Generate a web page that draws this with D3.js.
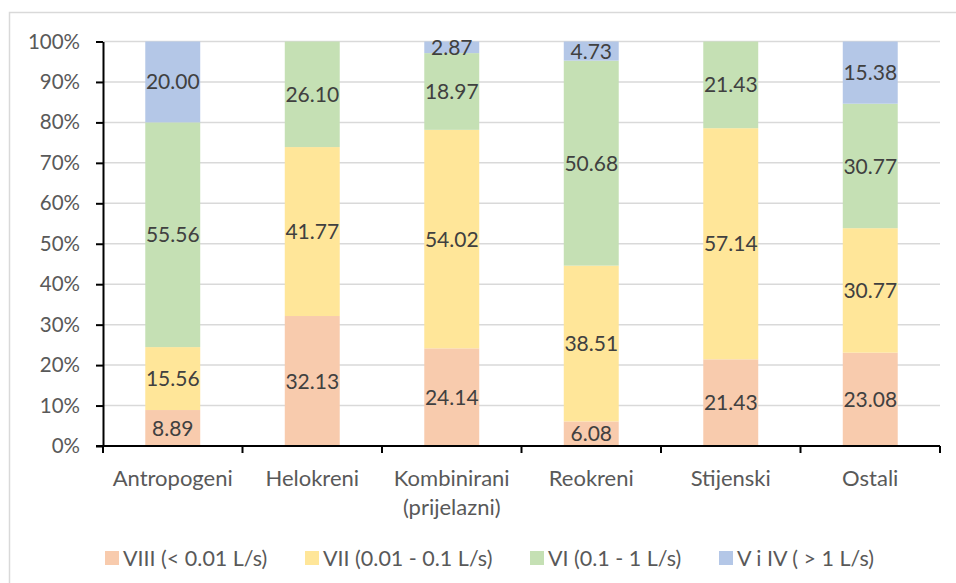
<!DOCTYPE html>
<html>
<head>
<meta charset="utf-8">
<script src="https://cdn.jsdelivr.net/npm/d3@7"></script>
<style>
  html, body { margin: 0; padding: 0; background: #fff; }
  svg { display: block; font-family: Lato, "Open Sans", sans-serif; }
</style>
</head>
<body>
<svg id="chart" width="956" height="583"></svg>
<script>
// Spring types and their discharge-class shares (%)
const categories = ["Antropogeni", "Helokreni", "Kombinirani\n(prijelazni)", "Reokreni", "Stijenski", "Ostali"];
const seriesNames = ["VIII (< 0.01 L/s)", "VII (0.01 - 0.1 L/s)", "VI (0.1 - 1 L/s)", "V i IV ( > 1 L/s)"];
const classVIII = [8.89, 32.13, 24.14, 6.08, 21.43, 23.08];
const classVII  = [15.56, 41.77, 54.02, 38.51, 57.14, 30.77];
const classVI   = [55.56, 26.10, 18.97, 50.68, 21.43, 30.77];
const classVIV  = [20.00, 0, 2.87, 4.73, 0, 15.38];
const yTicks = [0, 10, 20, 30, 40, 50, 60, 70, 80, 90, 100];
const colors = ["#F8CBAD", "#FFE699", "#C5E0B4", "#B4C7E7"];

const seriesValues = [classVIII, classVII, classVI, classVIV];
const rows = categories.map((c, i) => {
  const r = { cat: c };
  seriesNames.forEach((s, j) => { r[s] = seriesValues[j][i]; });
  return r;
});

const svg = d3.select("#chart");
const m = { left: 103, right: 940, top: 41.5, bottom: 446 };

// outer chart frame
svg.append("rect")
  .attr("x", 9.5).attr("y", 12.5)
  .attr("width", 1000).attr("height", 1000)
  .attr("fill", "none").attr("stroke", "#D9D9D9").attr("stroke-width", 1.5);

const x = d3.scaleBand().domain(categories).range([m.left, m.right]).paddingInner(0.606).paddingOuter(0.303);
const xEdges = d3.scaleLinear().domain([0, categories.length]).range([m.left, m.right]);
const y = d3.scaleLinear().domain([0, 100]).range([m.bottom, m.top]);

// horizontal gridlines
svg.append("g").selectAll("line").data(yTicks.filter(t => t > 0)).join("line")
  .attr("x1", m.left).attr("x2", m.right)
  .attr("y1", d => y(d)).attr("y2", d => y(d))
  .attr("stroke", "#D9D9D9").attr("stroke-width", 1.5);

// stacked bars
const stack = d3.stack().keys(seriesNames);
const layers = stack(rows);

const g = svg.append("g");
layers.forEach((layer, j) => {
  g.append("g").attr("fill", colors[j]).selectAll("rect")
    .data(layer.filter(d => d[1] - d[0] > 0)).join("rect")
    .attr("x", d => x(d.data.cat))
    .attr("width", x.bandwidth())
    .attr("y", d => y(d[1]))
    .attr("height", d => y(d[0]) - y(d[1]));
});

// value labels centred in each segment
layers.forEach((layer, j) => {
  g.append("g").selectAll("text")
    .data(layer.filter(d => d[1] - d[0] > 0)).join("text")
    .attr("x", d => x(d.data.cat) + x.bandwidth() / 2)
    .attr("y", d => y((d[0] + d[1]) / 2))
    .attr("dy", "0.36em")
    .attr("text-anchor", "middle")
    .attr("fill", "#404040")
    .attr("font-size", 21)
    .text(d => (d[1] - d[0]).toFixed(2));
});

// y axis
const yAxis = d3.axisLeft(y).tickValues(yTicks).tickFormat(d => d + "%").tickSize(7).tickSizeOuter(0);
const ya = svg.append("g").attr("transform", `translate(${m.left},0)`).call(yAxis);
ya.select(".domain").attr("stroke", "#000").attr("stroke-width", 2);
ya.selectAll(".tick line").attr("stroke", "#000").attr("stroke-width", 2);
ya.selectAll(".tick text").attr("x", -23).attr("fill", "#595959").attr("font-size", 20.5)
  .attr("font-family", "Lato, sans-serif");

// x axis baseline with ticks at category boundaries
const xa = svg.append("g");
xa.append("line").attr("x1", m.left - 7).attr("x2", m.right)
  .attr("y1", m.bottom).attr("y2", m.bottom).attr("stroke", "#000").attr("stroke-width", 2);
xa.selectAll("line.tk").data(d3.range(categories.length + 1)).join("line")
  .attr("class", "tk")
  .attr("x1", d => xEdges(d)).attr("x2", d => xEdges(d))
  .attr("y1", m.bottom).attr("y2", m.bottom + 7)
  .attr("stroke", "#000").attr("stroke-width", 2);

// category labels
xa.selectAll("text").data(categories).join("text")
  .attr("text-anchor", "middle")
  .attr("fill", "#595959").attr("font-size", 22)
  .attr("x", d => x(d) + x.bandwidth() / 2)
  .attr("y", 486)
  .each(function (d) {
    d.split("\n").forEach((line, i) => {
      d3.select(this).append("tspan")
        .attr("x", x(d) + x.bandwidth() / 2)
        .attr("dy", i === 0 ? 0 : 29)
        .text(line);
    });
  });

// legend
const legendX = [105, 305, 530, 719];
const lg = svg.append("g");
seriesNames.forEach((s, j) => {
  lg.append("rect").attr("x", legendX[j]).attr("y", 551).attr("width", 14).attr("height", 14).attr("fill", colors[j]);
  lg.append("text").attr("x", legendX[j] + 18).attr("y", 566)
    .attr("fill", "#595959").attr("font-size", 21.5).text(s);
});
</script>
</body>
</html>
